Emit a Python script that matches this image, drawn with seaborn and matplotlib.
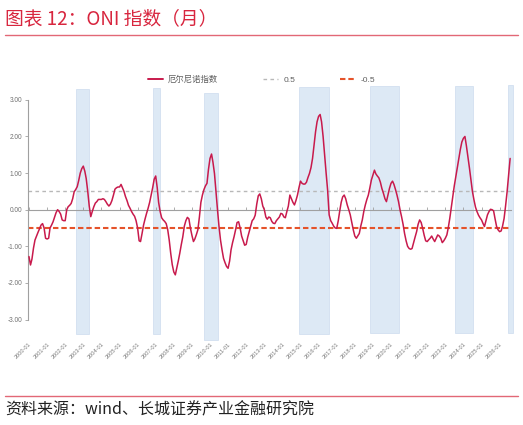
import pandas as pd
import matplotlib
matplotlib.use('Agg')
import matplotlib.pyplot as plt
import matplotlib.dates as mdates
from matplotlib.lines import Line2D
import seaborn as sns

# Monthly index values, 2000-01 .. 2026-08
oni_2000 = [-1.28, -1.51, -1.35, -1.05, -0.83, -0.72, -0.62, -0.52, -0.42, -0.38, -0.50, -0.78]
oni_2001 = [-0.80, -0.78, -0.50, -0.42, -0.33, -0.20, -0.08, 0.00, -0.05, -0.12, -0.28, -0.30]
oni_2002 = [-0.30, 0.00, 0.08, 0.12, 0.17, 0.30, 0.49, 0.55, 0.63, 0.80, 1.00, 1.12]
oni_2003 = [1.19, 1.05, 0.85, 0.50, 0.10, -0.19, -0.05, 0.08, 0.18, 0.22, 0.28, 0.28]
oni_2004 = [0.28, 0.30, 0.28, 0.22, 0.15, 0.10, 0.15, 0.25, 0.40, 0.56, 0.60, 0.62]
oni_2005 = [0.62, 0.69, 0.60, 0.50, 0.36, 0.25, 0.12, 0.04, -0.05, -0.12, -0.18, -0.30]
oni_2006 = [-0.50, -0.85, -0.87, -0.65, -0.42, -0.25, -0.10, 0.04, 0.20, 0.40, 0.60, 0.83]
oni_2007 = [0.92, 0.60, 0.20, -0.05, -0.22, -0.28, -0.32, -0.38, -0.55, -0.83, -1.20, -1.50]
oni_2008 = [-1.70, -1.78, -1.60, -1.40, -1.19, -0.95, -0.74, -0.45, -0.30, -0.21, -0.25, -0.50]
oni_2009 = [-0.70, -0.87, -0.80, -0.68, -0.55, -0.20, 0.20, 0.40, 0.55, 0.65, 0.72, 1.10]
oni_2010 = [1.40, 1.52, 1.30, 0.99, 0.50, 0.00, -0.45, -0.83, -1.10, -1.33, -1.45, -1.55]
oni_2011 = [-1.60, -1.40, -1.10, -0.90, -0.74, -0.55, -0.35, -0.33, -0.50, -0.72, -0.85, -0.97]
oni_2012 = [-0.95, -0.75, -0.60, -0.45, -0.30, -0.25, -0.15, 0.15, 0.38, 0.43, 0.30, 0.10]
oni_2013 = [0.00, -0.20, -0.26, -0.20, -0.22, -0.32, -0.37, -0.38, -0.30, -0.25, -0.20, -0.10]
oni_2014 = [-0.12, -0.20, -0.22, -0.05, 0.10, 0.40, 0.30, 0.20, 0.13, 0.25, 0.40, 0.60]
oni_2015 = [0.78, 0.72, 0.70, 0.70, 0.75, 0.88, 0.99, 1.15, 1.40, 1.75, 2.13, 2.40]
oni_2016 = [2.55, 2.60, 2.40, 2.00, 1.49, 1.00, 0.54, -0.14, -0.30, -0.37, -0.45, -0.50]
oni_2017 = [-0.51, -0.30, -0.05, 0.20, 0.35, 0.40, 0.30, 0.13, 0.00, -0.14, -0.35, -0.55]
oni_2018 = [-0.72, -0.78, -0.72, -0.65, -0.45, -0.28, -0.05, 0.13, 0.28, 0.40, 0.60, 0.81]
oni_2019 = [0.95, 1.08, 0.98, 0.92, 0.87, 0.75, 0.58, 0.45, 0.30, 0.22, 0.40, 0.58]
oni_2020 = [0.72, 0.78, 0.69, 0.55, 0.40, 0.22, 0.00, -0.19, -0.40, -0.65, -0.85, -1.00]
oni_2021 = [-1.06, -1.08, -1.06, -0.90, -0.75, -0.60, -0.40, -0.28, -0.35, -0.51, -0.70, -0.85]
oni_2022 = [-0.87, -0.82, -0.78, -0.72, -0.80, -0.87, -0.78, -0.69, -0.72, -0.78, -0.90, -0.85]
oni_2023 = [-0.78, -0.69, -0.50, -0.24, 0.05, 0.36, 0.65, 0.90, 1.15, 1.40, 1.65, 1.85]
oni_2024 = [1.95, 2.00, 1.75, 1.45, 1.15, 0.81, 0.50, 0.27, 0.07, -0.05, -0.15, -0.22]
oni_2025 = [-0.28, -0.38, -0.46, -0.30, -0.14, -0.05, 0.01, 0.00, -0.03, -0.25, -0.46, -0.55]
oni_2026 = [-0.60, -0.58, -0.45, -0.24, 0.10, 0.49, 0.95, 1.40]

# shaded periods: start, end, top, bottom
span_start = ['2002-08-15', '2006-11-01', '2009-09-01', '2014-12-05', '2018-11-01', '2023-07-15', '2026-06-17']
span_end = ['2003-05-01', '2007-03-20', '2010-06-10', '2016-07-20', '2020-06-05', '2024-07-05', '2026-09-27']
span_top = [3.30, 3.32, 3.18, 3.36, 3.38, 3.38, 3.41]
span_bottom = [-3.40, -3.40, -3.56, -3.40, -3.37, -3.37, -3.37]

upper_level = 0.5
lower_level = -0.5
series_label = '厄尔尼诺指数'
title_text = '图表 12：ONI 指数（月）'
source_text = '资料来源：wind、长城证券产业金融研究院'

values = (oni_2000 + oni_2001 + oni_2002 + oni_2003 + oni_2004 + oni_2005 + oni_2006 +
          oni_2007 + oni_2008 + oni_2009 + oni_2010 + oni_2011 + oni_2012 + oni_2013 +
          oni_2014 + oni_2015 + oni_2016 + oni_2017 + oni_2018 + oni_2019 + oni_2020 +
          oni_2021 + oni_2022 + oni_2023 + oni_2024 + oni_2025 + oni_2026)
df = pd.DataFrame({'date': pd.date_range('2000-01-01', periods=len(values), freq='MS'),
                   'oni': values})

sns.set_theme(style='white')
plt.rcParams['font.family'] = ['Noto Sans CJK SC', 'DejaVu Sans']
plt.rcParams['axes.unicode_minus'] = False

fig = plt.figure(figsize=(5.23, 4.25), dpi=100)
ax = fig.add_axes([0.0535, 0.1965, 0.9235, 0.6073])

# shaded bars
starts = mdates.date2num(pd.to_datetime(span_start))
ends = mdates.date2num(pd.to_datetime(span_end))
for s, e, t, b in zip(starts, ends, span_top, span_bottom):
    ax.bar(s, t - b, bottom=b, width=e - s, align='edge', color='#dde9f5',
           edgecolor='#cddcee', linewidth=0.5, zorder=0, clip_on=False)

ax.axhline(upper_level, color='#b8b8b8', lw=1.0, ls=(0, (2.6, 2.4)), zorder=1)
ax.axhline(lower_level, color='#e5532a', lw=1.5, ls=(0, (2.6, 1.4)), zorder=1)

sns.lineplot(data=df, x='date', y='oni', color='#c81a4c', linewidth=1.1, ax=ax, zorder=3)

ax.set_xlim(pd.Timestamp('2000-01-01') - pd.Timedelta(days=20), pd.Timestamp('2026-08-18'))
ax.set_ylim(-3.6, 3.45)
ax.set_xlabel('')
ax.set_ylabel('')

# axes styling
for side in ['top', 'right']:
    ax.spines[side].set_visible(False)
ax.spines['left'].set_bounds(-3, 3)
ax.spines['left'].set_color('#a0a0a0')
ax.spines['left'].set_linewidth(0.8)
ax.spines['bottom'].set_position(('data', 0))
ax.spines['bottom'].set_color('#a0a0a0')
ax.spines['bottom'].set_linewidth(0.8)

ax.set_yticks([-3, -2, -1, 0, 1, 2, 3])
ax.set_yticklabels([f'{v:.2f}' for v in [-3, -2, -1, 0, 1, 2, 3]])
years = pd.date_range('2000-01-01', '2026-01-01', freq='YS')
ax.set_xticks(years)
ax.set_xticklabels([d.strftime('%Y-%m') for d in years])

ax.tick_params(axis='y', direction='out', length=2, width=0.6, color='#a0a0a0',
               labelsize=4.7, labelcolor='#707070', pad=2, left=True)
ax.tick_params(axis='x', direction='in', length=2.5, width=0.6, color='#a0a0a0',
               labelsize=4.1, labelcolor='#7a7a7a', pad=95, bottom=True)
for lab in ax.get_yticklabels():
    lab.set_family(['Liberation Sans', 'DejaVu Sans'])
for lab in ax.get_xticklabels():
    lab.set_family(['Liberation Sans', 'DejaVu Sans'])
    lab.set_rotation(45)
    lab.set_ha('right')
    lab.set_va('top')
    lab.set_rotation_mode('anchor')

# legend
handles = [Line2D([], [], color='#c81a4c', lw=1.4),
           Line2D([], [], color='#b8b8b8', lw=1.0, ls=(0, (2.6, 2.4))),
           Line2D([], [], color='#e5532a', lw=1.5, ls=(0, (2.6, 1.4)))]
labels = [series_label, str(upper_level), str(lower_level)]
leg = fig.legend(handles, labels, loc='center', bbox_to_anchor=(0.5, 0.812), ncol=3,
                 frameon=False, handlelength=1.8, columnspacing=5.4, handletextpad=0.6,
                 prop={'family': ['Liberation Sans', 'Noto Sans CJK SC'], 'size': 6.0})
for t in leg.get_texts():
    t.set_color('#5e5e5e')

# title, rules and source note
fig.text(0.01, 0.957, title_text, fontsize=13.5, color='#d8263f', style='italic',
         ha='left', va='center')
fig.add_artist(Line2D([0.01, 0.99], [0.918, 0.918], color='#e26876', lw=1.0))
fig.add_artist(Line2D([0.01, 0.99], [0.069, 0.069], color='#e26876', lw=1.0))
fig.text(0.01, 0.035, source_text, fontsize=11.5, color='#222222', style='italic',
         ha='left', va='center')

fig.savefig('out.png', dpi=100)
